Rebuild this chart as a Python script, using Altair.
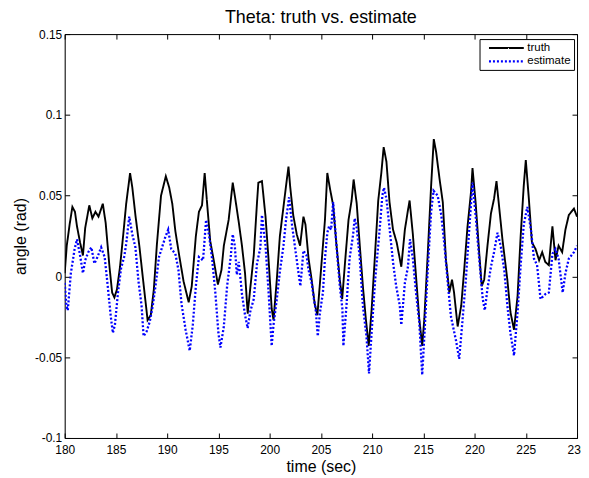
import altair as alt
import pandas as pd

# ---- data ----
truth_t = [180.0, 180.2, 180.5, 180.75, 181.0, 181.2, 181.5, 181.78, 182.0, 182.4, 182.7, 183.0, 183.3, 183.72,
           184.0, 184.37, 184.63, 184.85, 185.1, 185.4, 185.7, 186.0, 186.38, 186.6, 186.9, 187.3, 187.7, 188.09,
           188.4, 188.7, 189.0, 189.4, 189.87, 190.2, 190.5, 190.8, 191.2, 191.6, 192.1, 192.4, 192.8, 193.1,
           193.4, 193.66, 193.9, 194.2, 194.6, 194.95, 195.3, 195.53, 196.0, 196.4, 196.65, 197.0, 197.3, 197.6,
           197.86, 198.1, 198.45, 198.77, 198.9, 199.25, 199.6, 199.9, 200.2, 200.38, 200.7, 201.0, 201.35, 201.6,
           201.84, 202.0, 202.3, 202.65, 202.97, 203.3, 203.5, 203.8, 204.1, 204.4, 204.66, 204.9, 205.2, 205.4,
           205.63, 205.9, 206.2, 206.5, 206.85, 207.08, 207.35, 207.7, 208.0, 208.2, 208.5, 208.8, 209.1, 209.4,
           209.67, 209.95, 210.25, 210.6, 210.9, 211.13, 211.4, 211.7, 212.04, 212.4, 212.85, 213.2, 213.5, 213.66,
           213.98, 214.3, 214.6, 214.89, 215.1, 215.44, 215.76, 216.02, 216.25, 216.57, 216.9, 217.2, 217.54, 217.8,
           218.0, 218.35, 218.7, 219.0, 219.3, 219.65, 219.8, 220.1, 220.45, 220.7, 220.94, 221.26, 221.6, 221.9,
           222.14, 222.4, 222.72, 223.2, 223.5, 223.85, 224.2, 224.5, 224.8, 225.0, 225.3, 225.6, 225.95, 226.3,
           226.6, 226.9, 227.25, 227.6, 227.9, 228.2, 228.55, 228.87, 229.2, 229.7, 230.0]
truth_v = [0.002, 0.019, 0.033, 0.043, 0.040, 0.031, 0.021, 0.013, 0.030, 0.044, 0.036, 0.040, 0.037, 0.045,
           0.033, 0.006, -0.010, -0.013, -0.008, 0.006, 0.025, 0.045, 0.064, 0.055, 0.038, 0.018, -0.005, -0.027,
           -0.024, -0.008, 0.020, 0.050, 0.062, 0.055, 0.045, 0.028, 0.012, -0.003, -0.016, -0.006, 0.025, 0.040,
           0.044, 0.064, 0.045, 0.022, 0.008, -0.005, 0.004, 0.019, 0.035, 0.058, 0.048, 0.033, 0.019, 0.002,
           -0.023, -0.008, 0.013, 0.046, 0.058, 0.059, 0.037, 0.010, -0.020, -0.027, -0.002, 0.025, 0.043, 0.056,
           0.068, 0.056, 0.038, 0.026, 0.019, 0.037, 0.032, 0.011, -0.002, -0.017, -0.024, -0.005, 0.019, 0.035,
           0.064, 0.054, 0.044, 0.021, -0.002, -0.014, 0.008, 0.035, 0.047, 0.060, 0.045, 0.019, -0.006, -0.027,
           -0.043, -0.021, 0.010, 0.047, 0.064, 0.080, 0.071, 0.046, 0.029, 0.021, 0.006, 0.029, 0.041, 0.047,
           0.026, -0.001, -0.026, -0.043, -0.026, 0.015, 0.056, 0.085, 0.077, 0.061, 0.046, 0.011, -0.010, -0.002,
           -0.010, -0.031, -0.018, 0.005, 0.030, 0.052, 0.067, 0.046, 0.015, -0.006, -0.002, 0.019, 0.039, 0.048,
           0.059, 0.043, 0.023, -0.002, -0.022, -0.033, -0.012, 0.025, 0.056, 0.072, 0.048, 0.021, 0.017, 0.010,
           0.015, 0.009, 0.007, 0.031, 0.010, 0.019, 0.015, 0.029, 0.038, 0.042, 0.037]

est_t = [180.0, 180.16, 180.3, 180.6, 180.97, 181.2, 181.5, 181.78, 182.0, 182.3, 182.6, 182.9, 183.2, 183.56,
         183.9, 184.2, 184.5, 184.7, 184.9, 185.2, 185.5, 185.8, 186.0, 186.3, 186.6, 186.9, 187.2, 187.5, 187.7,
         188.0, 188.3, 188.6, 188.9, 189.2, 189.5, 189.8, 190.1, 190.4, 190.8, 191.1, 191.4, 191.8, 192.2, 192.5,
         192.8, 193.1, 193.5, 193.8, 194.1, 194.4, 194.7, 195.0, 195.2, 195.53, 195.85, 196.2, 196.4, 196.6,
         196.8, 196.98, 197.15, 197.3, 197.6, 197.86, 198.1, 198.45, 198.77, 199.1, 199.25, 199.6, 199.9, 200.2,
         200.38, 200.7, 201.0, 201.35, 201.6, 201.9, 202.2, 202.5, 202.8, 203.0, 203.3, 203.6, 203.8, 204.1,
         204.3, 204.5, 204.7, 204.9, 205.2, 205.4, 205.63, 205.8, 206.0, 206.2, 206.5, 206.85, 207.1, 207.2,
         207.5, 207.8, 208.15, 208.3, 208.5, 208.8, 209.1, 209.45, 209.7, 209.95, 210.3, 210.75, 211.0, 211.16,
         211.4, 211.7, 212.04, 212.35, 212.7, 212.85, 213.2, 213.5, 213.7, 213.98, 214.3, 214.6, 214.89, 215.1,
         215.44, 215.76, 216.0, 216.4, 216.75, 217.05, 217.4, 217.7, 218.2, 218.5, 218.8, 219.15, 219.5, 219.8,
         220.1, 220.45, 220.8, 221.0, 221.25, 221.6, 221.9, 222.24, 222.55, 222.9, 223.2, 223.5, 223.85, 224.2,
         224.5, 224.8, 225.15, 225.5, 225.8, 226.1, 226.44, 226.9, 227.25, 227.6, 227.9, 228.2, 228.6, 228.87,
         229.2, 229.7, 230.0]
est_v = [-0.004, -0.018, -0.021, 0.002, 0.017, 0.023, 0.013, 0.002, 0.010, 0.015, 0.018, 0.008, 0.012, 0.018,
         0.012, -0.006, -0.025, -0.035, -0.030, -0.010, 0.005, 0.012, 0.020, 0.037, 0.026, 0.018, -0.003, -0.018,
         -0.037, -0.034, -0.028, -0.018, -0.004, 0.012, 0.018, 0.024, 0.029, 0.017, 0.014, 0.004, -0.017, -0.033,
         -0.046, -0.030, -0.006, 0.012, 0.010, 0.035, 0.025, 0.010, -0.010, -0.035, -0.044, -0.031, -0.006,
         0.012, 0.026, 0.019, 0.001, 0.009, -0.001, -0.011, -0.024, -0.032, -0.022, -0.014, 0.008, 0.018, 0.038,
         0.019, -0.010, -0.043, -0.030, -0.014, 0.003, 0.019, 0.035, 0.049, 0.031, 0.017, 0.003, -0.006, 0.016,
         0.013, 0.004, -0.004, -0.013, -0.021, -0.037, -0.023, -0.010, 0.011, 0.027, 0.031, 0.029, 0.046, 0.021,
         -0.006, -0.020, -0.043, -0.018, 0.011, 0.026, 0.036, 0.030, 0.011, -0.018, -0.037, -0.060, -0.035,
         -0.002, 0.030, 0.050, 0.055, 0.048, 0.030, 0.009, -0.006, -0.018, -0.030, -0.004, 0.006, 0.023, 0.011,
         -0.011, -0.028, -0.061, -0.037, 0.005, 0.040, 0.053, 0.050, 0.038, 0.020, -0.005, -0.025, -0.040, -0.051,
         -0.029, -0.002, 0.031, 0.058, 0.038, 0.011, -0.014, -0.021, -0.008, 0.006, 0.015, 0.027, 0.019, 0.004,
         -0.018, -0.035, -0.049, -0.022, 0.007, 0.032, 0.043, 0.029, 0.011, 0.007, -0.014, -0.011, -0.010, 0.014,
         0.017, 0.011, -0.010, 0.002, 0.011, 0.015, 0.019]

series_names = ["truth", "estimate"]
series_colors = ["#000000", "#0000ff"]
x_ticks = [180, 185, 190, 195, 200, 205, 210, 215, 220, 225, 230]
y_ticks = [-0.1, -0.05, 0, 0.05, 0.1, 0.15]

df = pd.concat([
    pd.DataFrame({"time": truth_t, "angle": truth_v, "series": "truth"}),
    pd.DataFrame({"time": est_t, "angle": est_v, "series": "estimate"}),
], ignore_index=True)

FONT = "Liberation Sans"
xscale = alt.Scale(domain=[180, 230], nice=False, zero=False)
yscale = alt.Scale(domain=[-0.1, 0.15], nice=False, zero=False)
label_fix = "replace(format(datum.value, '~g'), '\u2212', '-')"

tick_style = dict(grid=True, gridDash=[5, 3000], gridColor="black", gridOpacity=1, gridWidth=1,
                  ticks=False, tickSize=0, domainColor="black", domainWidth=1)

legend = alt.Legend(title=None, orient="none", legendX=417, legendY=5,
                    symbolType="M0,0H7", symbolSize=100, symbolStrokeWidth=1.1,
                    labelFont=FONT, labelFontSize=11.5, labelColor="black", labelOffset=32,
                    padding=3, rowPadding=1, strokeColor="black", fillColor="white",
                    cornerRadius=0)

lines = alt.Chart(df).mark_line(clip=True).encode(
    x=alt.X("time:Q", scale=xscale,
            axis=alt.Axis(title="time (sec)", orient="bottom", values=x_ticks, labelPadding=7,
                          labelFontSize=12, labelFont=FONT, labelColor="black", labelFlush=False,
                          labelOverlap=False, titleFont=FONT, titleFontSize=16, titleFontWeight="normal",
                          titleColor="black", titlePadding=3, **tick_style)),
    y=alt.Y("angle:Q", scale=yscale,
            axis=alt.Axis(title="angle (rad)", orient="left", values=y_ticks, labelExpr=label_fix,
                          labelPadding=3, labelFontSize=12, labelFont=FONT, labelColor="black",
                          labelFlush=False, labelOverlap=False, titleFont=FONT, titleFontSize=16,
                          titleFontWeight="normal", titleColor="black", titlePadding=6, **tick_style)),
    color=alt.Color("series:N", scale=alt.Scale(domain=series_names, range=series_colors), legend=legend),
    strokeDash=alt.StrokeDash("series:N", scale=alt.Scale(domain=series_names, range=[[1, 0], [2, 2]]),
                              legend=legend),
    strokeWidth=alt.StrokeWidth("series:N", scale=alt.Scale(domain=series_names, range=[1.9, 2.3]),
                                legend=None),
)

frame = alt.Chart(df).mark_line(opacity=0).encode(
    x=alt.X("time:Q", scale=xscale,
            axis=alt.Axis(orient="top", labels=False, title=None, values=x_ticks, **tick_style)),
    y=alt.Y("angle:Q", scale=yscale,
            axis=alt.Axis(orient="right", labels=False, title=None, values=y_ticks, **tick_style)),
    detail="series:N",
)

chart = alt.layer(lines, frame).resolve_axis(x="independent", y="independent").properties(
    width=515, height=406,
    title=alt.TitleParams("Theta: truth vs. estimate", font=FONT, fontSize=18, fontWeight="normal",
                          color="black", anchor="middle", frame="group", offset=1),
    padding={"left": 57, "top": 25, "right": 4, "bottom": 39},
    autosize=alt.AutoSizeParams(type="none"),
).configure_view(stroke="black", strokeWidth=1).configure(background="white")

chart.save("out.html", embed_options={"renderer": "svg", "actions": False})
